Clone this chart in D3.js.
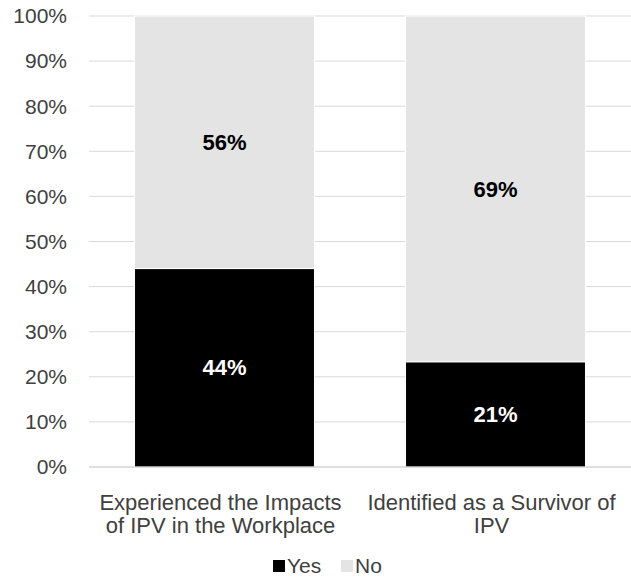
<!DOCTYPE html>
<html>
<head>
<meta charset="utf-8">
<script src="https://cdn.jsdelivr.net/npm/d3@7"></script>
<style>
  body { margin: 0; background: #fff; }
  svg { font-family: "Liberation Sans", Arial, sans-serif; }
</style>
</head>
<body>
<div id="chart"></div>
<script>
// data
const categories = [
    ["Experienced the Impacts", "of IPV in the Workplace"],
    ["Identified as a Survivor of", "IPV"]
];
const yesValues = [44, 21];
const noValues = [56, 69];
const seriesNames = ["Yes", "No"];
const seriesColors = ["#000000", "#e4e4e4"];
const yTicks = [0, 0.1, 0.2, 0.3, 0.4, 0.5, 0.6, 0.7, 0.8, 0.9, 1];

const W = 631, H = 581;
const margin = {top: 16, right: 0, bottom: 114, left: 89};
const width = W - margin.left - margin.right,
    height = H - margin.top - margin.bottom;

const svg = d3.select("#chart").append("svg")
    .attr("width", W)
    .attr("height", H);

const g = svg.append("g")
    .attr("transform", "translate(" + margin.left + "," + margin.top + ")");

const x = d3.scaleBand()
    .domain(d3.range(categories.length))
    .range([0, width])
    .paddingInner(0.336)
    .paddingOuter(0.168);

const y = d3.scaleLinear().domain([0, 1]).range([height, 0]);

// gridlines
g.selectAll(".grid")
    .data(yTicks.slice(1))
    .enter().append("line")
    .attr("x1", 0).attr("x2", width)
    .attr("y1", d => y(d)).attr("y2", d => y(d))
    .style("stroke", "#d9d9d9")
    .style("stroke-width", 1);

// y tick labels
g.selectAll(".ytick")
    .data(yTicks)
    .enter().append("text")
    .attr("x", -22)
    .attr("y", d => y(d))
    .attr("dy", "0.35em")
    .attr("text-anchor", "end")
    .style("font-size", "21px")
    .style("fill", "#404040")
    .text(d => d3.format(".0%")(d));

// stack as 100%
const rows = categories.map((c, i) => {
    const total = yesValues[i] + noValues[i];
    return {i: i, Yes: yesValues[i] / total, No: noValues[i] / total, raw: [yesValues[i], noValues[i]]};
});
const stack = d3.stack().keys(seriesNames)(rows);

const layers = g.selectAll(".layer")
    .data(stack)
    .enter().append("g")
    .style("fill", (d, i) => seriesColors[i]);

layers.selectAll("rect")
    .data(d => d)
    .enter().append("rect")
    .attr("x", d => x(d.data.i))
    .attr("width", x.bandwidth())
    .attr("y", d => y(d[1]))
    .attr("height", d => y(d[0]) - y(d[1]))
    .style("stroke", "#fff")
    .style("stroke-width", 1);

// labels on segments
stack.forEach((layer, k) => {
    g.selectAll(".lab" + k)
        .data(layer)
        .enter().append("text")
        .attr("x", d => x(d.data.i) + x.bandwidth() / 2)
        .attr("y", d => y((d[0] + d[1]) / 2))
        .attr("dy", "0.35em")
        .attr("text-anchor", "middle")
        .style("font-size", "22px")
        .style("font-weight", "bold")
        .style("fill", k === 0 ? "#fff" : "#000")
        .text(d => d.data.raw[k] + "%");
});

// x axis line
g.append("line")
    .attr("x1", 0).attr("x2", width)
    .attr("y1", height).attr("y2", height)
    .style("stroke", "#bfbfbf")
    .style("stroke-width", 1);

// category labels
const catLabels = g.selectAll(".cat")
    .data(categories)
    .enter().append("text")
    .attr("text-anchor", "middle")
    .attr("transform", (d, i) => "translate(" + (x(i) + x.bandwidth() / 2 - 4) + "," + (height + 43) + ")")
    .style("font-size", "22px")
    .style("fill", "#404040");

catLabels.selectAll("tspan")
    .data(d => d)
    .enter().append("tspan")
    .attr("x", 0)
    .attr("dy", (d, i) => i === 0 ? 0 : 23)
    .text(d => d);

// legend
const legend = svg.append("g").attr("transform", "translate(273,566)");
const legItems = [{name: seriesNames[0], x: 0}, {name: seriesNames[1], x: 68}];
legItems.forEach((d, i) => {
    legend.append("rect")
        .attr("x", d.x).attr("y", -6)
        .attr("width", 12).attr("height", 12)
        .style("fill", seriesColors[i]);
    legend.append("text")
        .attr("x", d.x + 14)
        .attr("y", 0)
        .attr("dy", "0.35em")
        .style("font-size", "21px")
        .style("fill", "#404040")
        .text(d.name);
});
</script>
</body>
</html>
